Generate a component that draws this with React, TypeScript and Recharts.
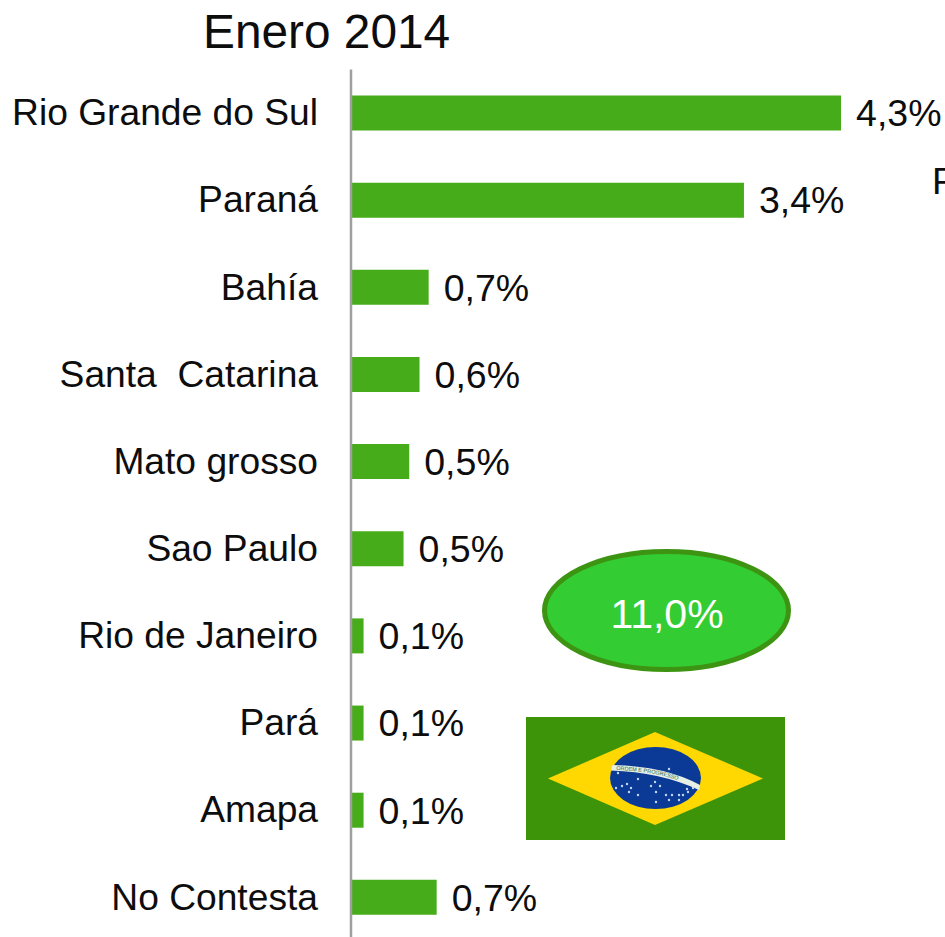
import { BarChart, Bar, XAxis, YAxis, LabelList } from 'recharts'

const FONT = '"Liberation Sans", Arial, sans-serif'

const states = [
  'Rio Grande do Sul',
  'Paraná',
  'Bahía',
  'Santa \u00a0Catarina',
  'Mato grosso',
  'Sao Paulo',
  'Rio de Janeiro',
  'Pará',
  'Amapa',
  'No Contesta',
]
// bar lengths
const shares = [4.29, 3.44, 0.68, 0.6, 0.51, 0.46, 0.11, 0.11, 0.11, 0.75]
// the printed labels are rounded
const shareLabels = ['4,3%', '3,4%', '0,7%', '0,6%', '0,5%', '0,5%', '0,1%', '0,1%', '0,1%', '0,7%']

const rows = states.map((state, i) => ({ state, share: shares[i], label: shareLabels[i] }))

// stars on the flag
const stars = [
  [618, 773], [669, 769], [638, 779], [627, 784], [622, 786], [631, 788], [629, 792],
  [616, 788], [638, 795], [655, 782], [651, 786], [660, 786], [656, 792], [666, 795],
  [672, 795], [679, 795], [683, 795], [687, 789], [688, 792], [679, 800], [669, 800],
  [656, 802], [693, 788],
]

function Flag() {
  return (
    <g>
      <rect x={526} y={717} width={259} height={123} fill="#3d9409" />
      <polygon points="548,778.5 655,732 763,778.5 655,825" fill="#fed800" />
      <ellipse cx={655.5} cy={778} rx={45.5} ry={31} fill="#0b3a96" />
      <path d="M612.5,765 Q665,766 700,785 L699,790 Q660,772 611,770.5 Z" fill="#e6eee6" />
      <path id="flag-band" d="M614,770 Q665,771 698,789" fill="none" />
      <text fontFamily={FONT} fontSize={5.5} fill="#2f6b3c">
        <textPath href="#flag-band" startOffset="2">
          ORDEM E PROGRESSO
        </textPath>
      </text>
      {stars.map(([cx, cy], i) => (
        <circle key={i} cx={cx} cy={cy} r={1.2} fill="#c4d6f2" />
      ))}
    </g>
  )
}

export default function App() {
  return (
    <div
      style={{
        position: 'absolute',
        left: 0,
        top: 0,
        width: 945,
        height: 937,
        overflow: 'hidden',
        background: '#fff',
      }}
    >
      <BarChart
        width={945}
        height={941}
        data={rows}
        layout="vertical"
        margin={{ top: 69.5, right: 0, bottom: 0, left: 0 }}
        style={{ fontFamily: FONT }}
      >
        <XAxis type="number" domain={[0, 5.2]} hide />
        <YAxis
          type="category"
          dataKey="state"
          width={351}
          interval={0}
          axisLine={{ stroke: '#a0a0a0', strokeWidth: 2.5 }}
          tickLine={false}
          tickMargin={27}
          tick={{ fill: '#0d0d0d', fontSize: 37.2, fontFamily: FONT, dy: -1 }}
        />
        <Bar dataKey="share" fill="#46ac19" barSize={35} isAnimationActive={false}>
          <LabelList
            dataKey="label"
            position="right"
            offset={15}
            fill="#0d0d0d"
            fontSize={37.5}
            fontFamily={FONT}
          />
        </Bar>
        <text x={203} y={48} fontSize={47.8} fontFamily={FONT} fill="#0d0d0d">
          Enero 2014
        </text>
        <text x={932} y={194} fontSize={37} fontFamily={FONT} fill="#0d0d0d">
          R
        </text>
        <ellipse cx={666.5} cy={610.5} rx={122} ry={59} fill="#33cc33" stroke="#3c9412" strokeWidth={5} />
        <text x={667} y={628} textAnchor="middle" fontSize={41} fontFamily={FONT} fill="#ffffff">
          11,0%
        </text>
        <Flag />
      </BarChart>
    </div>
  )
}
